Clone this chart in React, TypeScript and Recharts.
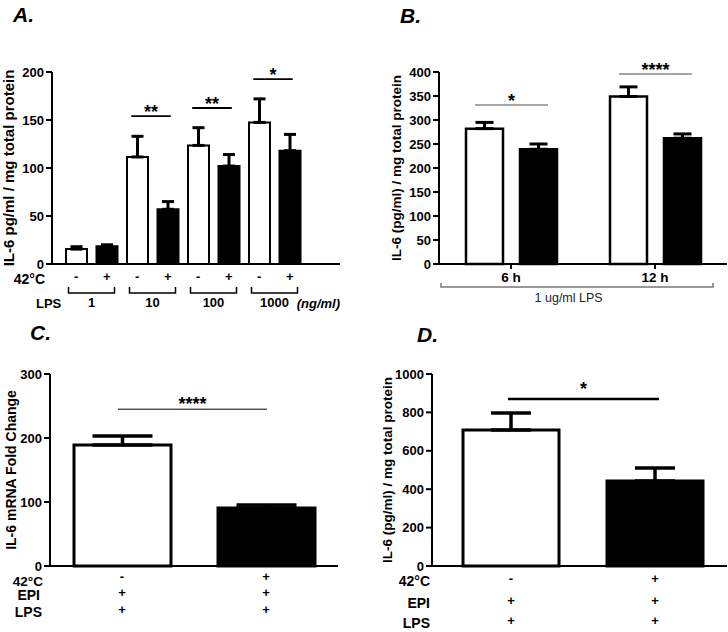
import React from 'react';
import { BarChart, Bar, XAxis, YAxis, ErrorBar, Cell, ReferenceLine, Label } from 'recharts';

const FONT = '"Liberation Sans", Arial, Helvetica, sans-serif';

// Panel A: IL-6 vs LPS dose, with/without 42°C
const aKeys = ['1-', '1+', '10-', '10+', '100-', '100+', '1000-', '1000+'];
const aHeat = ['-', '+', '-', '+', '-', '+', '-', '+'];
const aLps = ['1', '1', '10', '10', '100', '100', '1000', '1000'];
const aMean = [15.5, 18.5, 111.5, 57, 123.5, 102, 147.5, 118];
const aSem = [2.5, 1.5, 21.5, 8, 18.5, 12, 24.5, 17];
const aTicks = [0, 50, 100, 150, 200];
const aSig = [
  { from: '10-', to: '10+', y: 154, mark: '**' },
  { from: '100-', to: '100+', y: 162.5, mark: '**' },
  { from: '1000-', to: '1000+', y: 192.5, mark: '*' },
];

// Panel B: 6 h / 12 h after 1 ug/ml LPS
const bTimes = ['6 h', '12 h'];
const bCtrl = [282, 349];
const bCtrlSem = [13, 20];
const bHeat = [239, 262];
const bHeatSem = [11, 9];
const bTicks = [0, 50, 100, 150, 200, 250, 300, 350, 400];
const bSig = [
  { at: '6 h', y: 331, mark: '*' },
  { at: '12 h', y: 396, mark: '****' },
];

// Panel C: mRNA fold change
const cGroups = ['ctrl', 'heat'];
const cHeat = ['-', '+'];
const cEpi = ['+', '+'];
const cLps = ['+', '+'];
const cMean = [189, 90.5];
const cSem = [14, 5];
const cTicks = [0, 100, 200, 300];
const cSig = { from: 'ctrl', to: 'heat', y: 245, mark: '****' };

// Panel D: protein
const dGroups = ['ctrl', 'heat'];
const dHeat = ['-', '+'];
const dEpi = ['+', '+'];
const dLps = ['+', '+'];
const dMean = [708, 443];
const dSem = [89, 67];
const dTicks = [0, 200, 400, 600, 800, 1000];
const dSig = { from: 'ctrl', to: 'heat', y: 870, mark: '*' };

const axisStroke = { stroke: '#000', strokeWidth: 2 };
const tickStyle = (size = 13) => ({ fontFamily: FONT, fontSize: size, fontWeight: 700, fill: '#000' });
const labelProps = (size: number, weight = 700) => ({ fontFamily: FONT, fontSize: size, fontWeight: weight, fill: '#000' });

// horizontal significance bar with stars above
const sigShape = (mark: string, o: any) => (p: any) => {
  const left = Math.min(p.x1, p.x2) - o.padL;
  const right = Math.max(p.x1, p.x2) + o.padR;
  return (
    <g>
      <line x1={left} x2={right} y1={p.y1} y2={p.y1} stroke={o.color} strokeWidth={o.width} />
      <text x={(left + right) / 2} y={p.y1 + o.lift} textAnchor="middle" fontFamily={FONT} fontWeight={700} fontSize={18} fill="#000">
        {mark}
      </text>
    </g>
  );
};

const aData = aKeys.map((key, i) => ({ key, lps: aLps[i], mean: aMean[i], err: [0, aSem[i]] }));

const LpsTick = (props: any) => {
  const { x, y, payload } = props;
  return (
    <g>
      <path d={`M${x - 23},${y}V${y + 6}H${x + 23}V${y}`} fill="none" stroke="#000" strokeWidth={1.5} />
      <text x={x} y={y + 20} textAnchor="middle" {...tickStyle(13)}>{payload.value}</text>
    </g>
  );
};

function PanelA() {
  const pad = { left: 9, right: 35 };
  return (
    <BarChart width={364} height={320} data={aData} margin={{ top: 72, right: 24, bottom: 0, left: 0 }}>
      <YAxis width={52} domain={[0, 200]} ticks={aTicks} interval={0} tick={tickStyle()} tickSize={6} axisLine={axisStroke} tickLine={axisStroke}>
        <Label value="IL-6 pg/ml / mg total protein" angle={-90} position="center" dx={-17} {...labelProps(15)} />
      </YAxis>
      <XAxis xAxisId="r1" dataKey="key" height={22} interval={0} padding={pad} tickFormatter={(_: any, i: number) => aHeat[i]}
        tick={tickStyle()} tickLine={false} tickSize={6} tickMargin={2} axisLine={axisStroke}>
        <Label value="42°C" position="left" dx={-2} dy={4} {...labelProps(14)} />
      </XAxis>
      <XAxis xAxisId="r2" dataKey="lps" allowDuplicatedCategory={false} height={34} interval={0} padding={pad}
        axisLine={false} tickLine={false} tickSize={0} tickMargin={1} tick={<LpsTick />}>
        <Label value="LPS" position="insideLeft" dx={-21} {...labelProps(13)} />
        <Label value="(ng/ml)" position="insideRight" dx={5} fontStyle="italic" {...labelProps(13)} />
      </XAxis>
      <Bar xAxisId="r1" dataKey="mean" barSize={21} stroke="#000" strokeWidth={2} isAnimationActive={false}>
        {aData.map((d, i) => <Cell key={d.key} fill={aHeat[i] === '+' ? '#000' : '#fff'} />)}
        <ErrorBar dataKey="err" width={6} stroke="#000" strokeWidth={3} isAnimationActive={false} />
      </Bar>
      {aSig.map((s) => (
        <ReferenceLine key={s.from} xAxisId="r1" segment={[{ x: s.from, y: s.y }, { x: s.to, y: s.y }]}
          shape={sigShape(s.mark, { padL: 6, padR: 3, color: '#000', width: 1.8, lift: 2 })} />
      ))}
    </BarChart>
  );
}

const bData = bTimes.map((time, i) => ({
  time,
  ctrl: bCtrl[i], ctrlErr: [0, bCtrlSem[i]],
  heat: bHeat[i], heatErr: [0, bHeatSem[i]],
}));

const BBracket = (props: any) => {
  const { x, y, width } = props.viewBox;
  const l = x + 2;
  const r = x + width - 14;
  return (
    <g>
      <path d={`M${l},${y + 19}V${y + 23}H${r}V${y + 19}`} fill="none" stroke="#777" strokeWidth={1.5} />
      <text x={x + width * 0.45} y={y + 37.5} textAnchor="middle" fontFamily={FONT} fontSize={12.5} fill="#222">1 ug/ml LPS</text>
    </g>
  );
};

function PanelB() {
  return (
    <BarChart width={364} height={320} data={bData} barGap={17} margin={{ top: 72, right: 1, bottom: 0, left: 0 }}>
      <YAxis width={75} domain={[0, 400]} ticks={bTicks} interval={0} tick={tickStyle()} tickSize={6} axisLine={axisStroke} tickLine={axisStroke}>
        <Label value="IL-6 (pg/ml) / mg total protein" angle={-90} position="center" dx={-5.5} {...labelProps(13.5)} />
      </YAxis>
      <XAxis dataKey="time" height={56} interval={0} tick={tickStyle(13.5)} tickSize={5} tickMargin={3} tickLine={axisStroke} axisLine={axisStroke}>
        <Label content={<BBracket />} />
      </XAxis>
      <Bar dataKey="ctrl" barSize={37} fill="#fff" stroke="#000" strokeWidth={2.5} isAnimationActive={false}>
        <ErrorBar dataKey="ctrlErr" width={9} stroke="#000" strokeWidth={3} isAnimationActive={false} />
      </Bar>
      <Bar dataKey="heat" barSize={37} fill="#000" stroke="#000" strokeWidth={2.5} isAnimationActive={false}>
        <ErrorBar dataKey="heatErr" width={9} stroke="#000" strokeWidth={3} isAnimationActive={false} />
      </Bar>
      {bSig.map((s) => (
        <ReferenceLine key={s.at} segment={[{ x: s.at, y: s.y }, { x: s.at, y: s.y }]}
          shape={sigShape(s.mark, { padL: 36, padR: 37, color: '#888', width: 1.5, lift: 2 })} />
      ))}
    </BarChart>
  );
}

const cData = cGroups.map((group, i) => ({ group, mean: cMean[i], err: [0, cSem[i]] }));

function PanelC() {
  return (
    <BarChart width={364} height={312} data={cData} margin={{ top: 54, right: 26, bottom: 0, left: 0 }}>
      <YAxis width={50} domain={[0, 300]} ticks={cTicks} interval={0} tick={tickStyle()} tickSize={6} axisLine={axisStroke} tickLine={axisStroke}>
        <Label value="IL-6 mRNA Fold  Change" angle={-90} position="center" dx={-14} {...labelProps(14)} />
      </YAxis>
      <XAxis xAxisId="r1" dataKey="group" height={20} interval={0} tickFormatter={(_: any, i: number) => cHeat[i]}
        tick={tickStyle()} tickLine={false} tickSize={6} tickMargin={0} axisLine={axisStroke}>
        <Label value="42°C" position="left" dx={-2} dy={5} {...labelProps(13.5)} />
      </XAxis>
      <XAxis xAxisId="r2" dataKey="group" height={17} interval={0} tickFormatter={(_: any, i: number) => cEpi[i]}
        tick={tickStyle()} tickLine={false} tickSize={0} tickMargin={2} axisLine={false}>
        <Label value="EPI" position="left" dx={-5} dy={1} {...labelProps(14)} />
      </XAxis>
      <XAxis xAxisId="r3" dataKey="group" height={29} interval={0} tickFormatter={(_: any, i: number) => cLps[i]}
        tick={tickStyle()} tickLine={false} tickSize={0} tickMargin={2} axisLine={false}>
        <Label value="LPS" position="left" dx={-3} dy={-5} {...labelProps(14)} />
      </XAxis>
      <Bar xAxisId="r1" dataKey="mean" barSize={97} stroke="#000" strokeWidth={3} isAnimationActive={false}>
        {cData.map((d, i) => <Cell key={d.group} fill={cHeat[i] === '+' ? '#000' : '#fff'} />)}
        <ErrorBar dataKey="err" width={30} stroke="#000" strokeWidth={3.5} isAnimationActive={false} />
      </Bar>
      <ReferenceLine xAxisId="r1" segment={[{ x: cSig.from, y: cSig.y }, { x: cSig.to, y: cSig.y }]}
        shape={sigShape(cSig.mark, { padL: 4, padR: 1, color: '#000', width: 1, lift: 1 })} />
    </BarChart>
  );
}

const dData = dGroups.map((group, i) => ({ group, mean: dMean[i], err: [0, dSem[i]] }));

function PanelD() {
  const pad = { left: 7, right: 0 };
  return (
    <BarChart width={364} height={312} data={dData} margin={{ top: 54, right: 1, bottom: 0, left: 0 }}>
      <YAxis width={68} domain={[0, 1000]} ticks={dTicks} interval={0} tick={tickStyle()} tickSize={6} axisLine={axisStroke} tickLine={axisStroke}>
        <Label value="IL-6 (pg/ml) / mg total protein" angle={-90} position="center" dx={-11} {...labelProps(13.5)} />
      </YAxis>
      <XAxis xAxisId="r1" dataKey="group" height={26} interval={0} padding={pad} tickFormatter={(_: any, i: number) => dHeat[i]}
        tick={tickStyle()} tickLine={false} tickSize={6} tickMargin={2} axisLine={axisStroke}>
        <Label value="42°C" position="left" dx={3} dy={2} {...labelProps(14)} />
      </XAxis>
      <XAxis xAxisId="r2" dataKey="group" height={20} interval={0} padding={pad} tickFormatter={(_: any, i: number) => dEpi[i]}
        tick={tickStyle()} tickLine={false} tickSize={0} tickMargin={4} axisLine={false}>
        <Label value="EPI" position="left" dx={3} dy={1} {...labelProps(14)} />
      </XAxis>
      <XAxis xAxisId="r3" dataKey="group" height={20} interval={0} padding={pad} tickFormatter={(_: any, i: number) => dLps[i]}
        tick={tickStyle()} tickLine={false} tickSize={0} tickMargin={4} axisLine={false}>
        <Label value="LPS" position="left" dx={3} dy={1} {...labelProps(14)} />
      </XAxis>
      <Bar xAxisId="r1" dataKey="mean" barSize={96} stroke="#000" strokeWidth={3} isAnimationActive={false}>
        {dData.map((d, i) => <Cell key={d.group} fill={dHeat[i] === '+' ? '#000' : '#fff'} />)}
        <ErrorBar dataKey="err" width={20} stroke="#000" strokeWidth={3.5} isAnimationActive={false} />
      </Bar>
      <ReferenceLine xAxisId="r1" segment={[{ x: dSig.from, y: dSig.y }, { x: dSig.to, y: dSig.y }]}
        shape={sigShape(dSig.mark, { padL: 3, padR: 4, color: '#000', width: 2.5, lift: -4 })} />
    </BarChart>
  );
}

const titleStyle: React.CSSProperties = {
  position: 'absolute', fontFamily: FONT, fontSize: 21, fontWeight: 700, fontStyle: 'italic', lineHeight: 1, color: '#000',
};

export default function App() {
  return (
    <div style={{ position: 'absolute', left: 0, top: 0, width: 728, height: 632, background: '#fff', overflow: 'hidden' }}>
      <div style={{ position: 'absolute', left: 0, top: 0 }}><PanelA /></div>
      <div style={{ position: 'absolute', left: 364, top: 0 }}><PanelB /></div>
      <div style={{ position: 'absolute', left: 0, top: 320 }}><PanelC /></div>
      <div style={{ position: 'absolute', left: 364, top: 320 }}><PanelD /></div>
      <div style={{ ...titleStyle, left: 13, top: 4 }}>A.</div>
      <div style={{ ...titleStyle, left: 400, top: 5 }}>B.</div>
      <div style={{ ...titleStyle, left: 30, top: 322 }}>C.</div>
      <div style={{ ...titleStyle, left: 417, top: 324 }}>D.</div>
    </div>
  );
}
